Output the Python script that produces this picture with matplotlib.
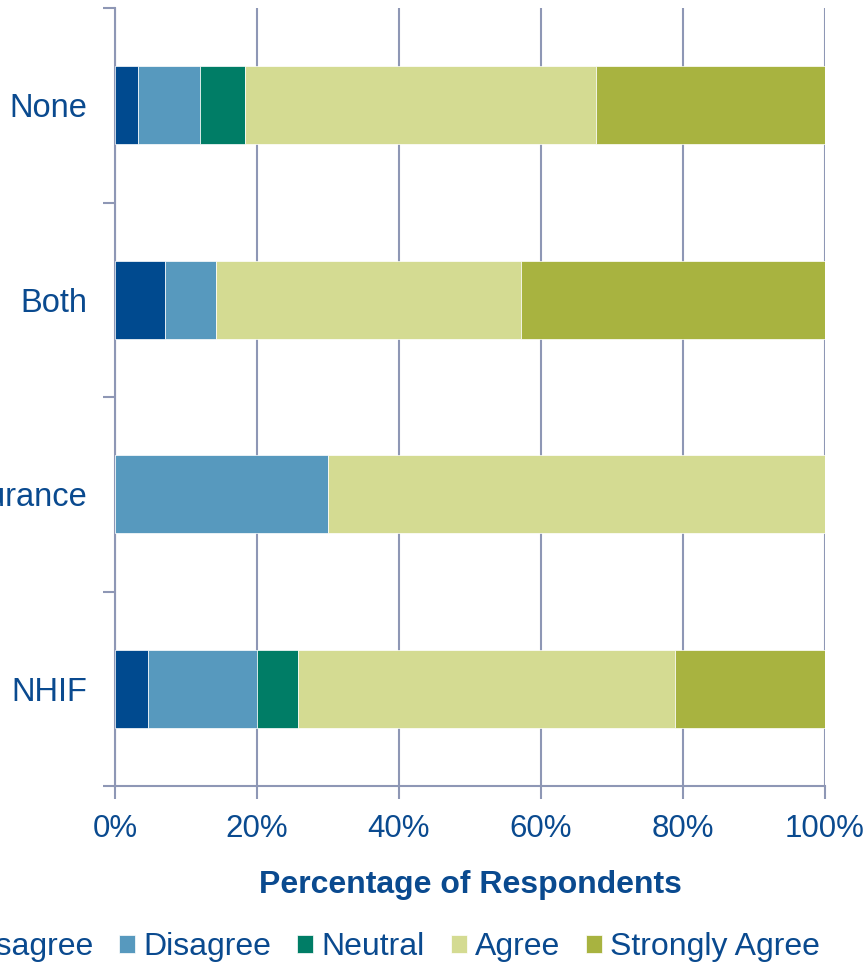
import matplotlib
matplotlib.use("Agg")
import matplotlib.pyplot as plt
import numpy as np

# categories, top to bottom
categories = ["None", "Both", "Private Insurance", "NHIF"]
responses = ["Strongly Disagree", "Disagree", "Neutral", "Agree", "Strongly Agree"]

strongly_disagree = [3.2, 7.1, 0.0, 4.6]
disagree = [8.8, 7.1, 30.0, 15.4]
neutral = [6.3, 0.0, 0.0, 5.8]
agree = [49.4, 43.0, 70.0, 53.1]
strongly_agree = [32.3, 42.8, 0.0, 21.1]

colors = ["#004A8F", "#5799BE", "#007D66", "#D4DB92", "#A8B340"]
text_color = "#0A4A8F"
grid_color = "#8E97B5"

plt.rcParams['font.family'] = ['Liberation Sans', 'DejaVu Sans']

fig = plt.figure(figsize=(8.65, 9.64), dpi=100)
ax = fig.add_axes([115 / 865, 1 - 786 / 964, 710 / 865, 778 / 964])

series = [strongly_disagree, disagree, neutral, agree, strongly_agree]
ypos = np.arange(len(categories))[::-1]
left = np.zeros(len(categories))
for name, vals, col in zip(responses, series, colors):
    vals = np.array(vals)
    ax.barh(ypos, vals, left=left, height=0.4, color=col, label=name,
            edgecolor='white', linewidth=0.5, zorder=3)
    left += vals

ax.set_xlim(0, 100)
ax.set_ylim(-0.5, len(categories) - 0.5)
ax.set_xticks(np.arange(0, 101, 20))
ax.set_xticklabels([f"{v}%" for v in range(0, 101, 20)])
ax.set_yticks(ypos)
ax.set_yticklabels(categories)
ax.set_yticks(np.arange(-0.5, len(categories), 1), minor=True)

ax.tick_params(axis='y', which='major', length=0, pad=20, labelsize=23.5, labelcolor=text_color)
ax.tick_params(axis='y', which='minor', length=9, width=1.5, color=grid_color)
ax.tick_params(axis='x', which='major', length=9, width=1.5, color=grid_color,
               pad=11, labelsize=22.5, labelcolor=text_color)

ax.grid(axis='x', color=grid_color, linewidth=1.5, zorder=0)
ax.set_axisbelow(True)
for s in ['top', 'right']:
    ax.spines[s].set_visible(False)
for s in ['left', 'bottom']:
    ax.spines[s].set_color(grid_color)
    ax.spines[s].set_linewidth(1.5)

ax.set_xlabel("Percentage of Respondents", fontsize=23, fontweight='bold',
              color=text_color, labelpad=19)

leg = fig.legend(loc='center right', bbox_to_anchor=(820 / 865, 1 - 947 / 964),
                 ncol=5, frameon=False, fontsize=23, borderpad=0, borderaxespad=0,
                 handlelength=0.5, handleheight=0.5, handletextpad=0.25,
                 columnspacing=0.82)
for t in leg.get_texts():
    t.set_color(text_color)

fig.savefig("out.png", dpi=100)
